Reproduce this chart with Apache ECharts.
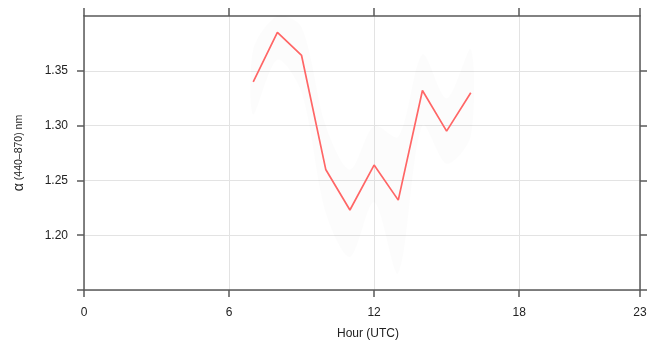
<!DOCTYPE html>
<html>
<head>
<meta charset="utf-8">
<script src="https://cdn.jsdelivr.net/npm/echarts@6/dist/echarts.min.js"></script>
<style>html,body{margin:0;padding:0;background:#fff}#c{width:662px;height:345px}</style>
</head>
<body>
<div id="c"></div>
<script>
var hours = [7, 8, 9, 10, 11, 12, 13, 14, 15, 16];
var alpha = [1.340, 1.385, 1.364, 1.260, 1.223, 1.264, 1.232, 1.332, 1.295, 1.330];
var bandLower = [1.31, 1.36, 1.33, 1.22, 1.18, 1.23, 1.165, 1.30, 1.265, 1.29];
var bandUpper = [1.37, 1.40, 1.39, 1.30, 1.26, 1.30, 1.29, 1.365, 1.325, 1.37];
var xMin = 0, xMax = 23, xStep = 6;
var yMin = 1.15, yMax = 1.40, yStep = 0.05;
var yTicks = [1.15, 1.20, 1.25, 1.30, 1.35];

var axisCol = '#5a5a5a';
var gridCol = '#e3e3e3';
var font = 'Liberation Sans, Arial, sans-serif';

var chart = echarts.init(document.getElementById('c'));
chart.setOption({
  animation: false,
  backgroundColor: '#ffffff',
  grid: {left: 84, right: 22, top: 16, bottom: 51, containLabel: false},
  xAxis: [{
    type: 'value', position: 'bottom', min: xMin, max: xMax, interval: xStep,
    axisLine: {show: true, onZero: false, lineStyle: {color: axisCol, width: 1.5}},
    axisTick: {show: true, length: 7, lineStyle: {color: axisCol, width: 1.5}},
    axisLabel: {color: '#222', fontFamily: font, fontSize: 12, margin: 17, showMaxLabel: true,
      formatter: function(v){return String(v);}},
    splitLine: {show: true, lineStyle: {color: gridCol, width: 1}},
    name: 'Hour (UTC)', nameLocation: 'middle', nameGap: 38,
    nameTextStyle: {color: '#222', fontFamily: font, fontSize: 12, padding: [0, 0, 0, 12]}
  }, {
    type: 'value', position: 'top', min: xMin, max: xMax, interval: xStep,
    axisLine: {show: true, onZero: false, lineStyle: {color: axisCol, width: 1.5}},
    axisTick: {show: true, length: 8, lineStyle: {color: axisCol, width: 1.5}},
    axisLabel: {show: false},
    splitLine: {show: false}
  }],
  yAxis: [{
    type: 'value', position: 'left', min: yMin, max: yMax, interval: yStep,
    axisLine: {show: true, onZero: false, lineStyle: {color: axisCol, width: 1.5}},
    axisTick: {show: true, customValues: yTicks, length: 7, lineStyle: {color: axisCol, width: 1.5}},
    axisLabel: {color: '#222', fontFamily: font, fontSize: 12, margin: 16, showMinLabel: true, showMaxLabel: true,
      formatter: function(v){
        if (Math.abs(v - yMin) < 1e-6 || Math.abs(v - yMax) < 1e-6) return '';
        return v.toFixed(2);
      }},
    splitLine: {show: true, lineStyle: {color: gridCol, width: 1}},
    name: '{a|α}{s| (440–870) nm}', nameLocation: 'middle', nameGap: 58, nameRotate: 90,
    nameTextStyle: {color: '#222', fontFamily: font,
      rich: {a: {fontSize: 14, fontFamily: font, color: '#222'}, s: {fontSize: 10.5, fontFamily: font, color: '#222'}}}
  }, {
    type: 'value', position: 'right', min: yMin, max: yMax, interval: yStep,
    axisLine: {show: true, onZero: false, lineStyle: {color: axisCol, width: 1.5}},
    axisTick: {show: true, customValues: yTicks, length: 7, lineStyle: {color: axisCol, width: 1.5}},
    axisLabel: {show: false},
    splitLine: {show: false}
  }],
  series: [{
    type: 'custom', xAxisIndex: 0, yAxisIndex: 0, silent: true, z: 1,
    data: hours.map(function(h, i){return [h, bandLower[i], bandUpper[i]];}),
    renderItem: function(params, api) {
      if (params.dataIndex !== 0) return null;
      var up = [], lo = [];
      for (var i = 0; i < hours.length; i++) {
        up.push(api.coord([hours[i], bandUpper[i]]));
        lo.unshift(api.coord([hours[i], bandLower[i]]));
      }
      return {type: 'polygon', shape: {points: up.concat(lo), smooth: 0.3}, style: {fill: 'rgba(0,0,0,0.012)'}};
    }
  }, {
    type: 'line', xAxisIndex: 0, yAxisIndex: 0, symbol: 'none',
    data: hours.map(function(h, i){return [h, alpha[i]];}),
    lineStyle: {color: '#ff6666', width: 1.7}, z: 5
  }]
});
</script>
</body>
</html>
